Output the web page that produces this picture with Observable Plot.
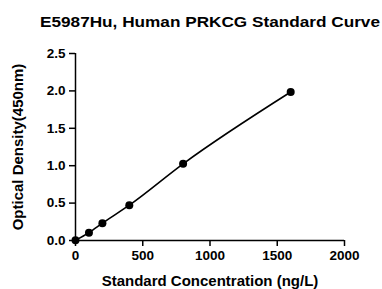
<!DOCTYPE html>
<html>
<head>
<meta charset="utf-8">
<script src="https://cdn.jsdelivr.net/npm/d3@7"></script>
<script src="https://cdn.jsdelivr.net/npm/@observablehq/plot@0.6"></script>
<style>
  html, body { margin: 0; padding: 0; background: #fff; }
  #wrap { width: 382px; position: relative; font-family: "Liberation Sans", Arial, sans-serif; }
  #titlebox { height: 36px; position: relative; }
  #title { position: absolute; left: 209.5px; top: 12px; font-weight: bold; font-size: 15.5px; color: #000; line-height: 20px; white-space: nowrap; transform-origin: 0 0; }
</style>
</head>
<body>
<div id="wrap">
  <div id="titlebox"><span id="title">E5987Hu, Human PRKCG Standard Curve</span></div>
  <div id="chart"></div>
</div>
<script>
const concentration = [0, 100, 200, 400, 800, 1600];
const density = [0.002, 0.105, 0.232, 0.472, 1.025, 1.985];
const xTicks = [0, 500, 1000, 1500, 2000];
const yTicks = [0, 0.5, 1.0, 1.5, 2.0, 2.5];

const data = concentration.map((c, i) => ({x: c, y: density[i]}));

// fit title to the reference's width (about 340px), centred over the plot area
const t = document.getElementById("title");
const w = t.getBoundingClientRect().width;
const k = 340 / w;
t.style.transform = `scaleX(${k}) translateX(-50%)`;

const chart = Plot.plot({
  width: 382,
  height: 253,
  marginLeft: 75,
  marginRight: 38,
  marginTop: 17,
  marginBottom: 49,
  style: {fontFamily: "Liberation Sans, Arial, sans-serif", fontWeight: "bold", fontSize: "13px", color: "#000", background: "#fff", overflow: "visible"},
  x: {domain: [0, 2000]},
  y: {domain: [0, 2.5]},
  marks: [
    Plot.axisX({ticks: xTicks, tickSize: 6, tickPadding: 4, tickFormat: d => String(d), stroke: "#000", strokeWidth: 1.5, fontSize: 13.5, fontWeight: "bold", label: null}),
    Plot.axisY({ticks: yTicks, tickSize: 6, tickPadding: 4, tickFormat: d => d.toFixed(1), stroke: "#000", strokeWidth: 1.5, fontSize: 13.5, fontWeight: "bold", label: null}),
    Plot.ruleX([0], {stroke: "#000", strokeWidth: 1.5}),
    Plot.ruleY([0], {stroke: "#000", strokeWidth: 1.5}),
    Plot.text(["Standard Concentration (ng/L)"], {frameAnchor: "bottom", dy: 45, fontSize: 15, fontWeight: "bold", fill: "#000", lineAnchor: "bottom"}),
    Plot.text(["Optical Density(450nm)"], {frameAnchor: "left", dx: -57, rotate: -90, textAnchor: "middle", fontSize: 15, fontWeight: "bold", fill: "#000"}),
    Plot.line(data, {x: "x", y: "y", curve: "monotone-x", stroke: "#000", strokeWidth: 1.6}),
    Plot.dot(data, {x: "x", y: "y", r: 4, fill: "#000", stroke: "none"})
  ]
});
document.getElementById("chart").appendChild(chart);
</script>
</body>
</html>
